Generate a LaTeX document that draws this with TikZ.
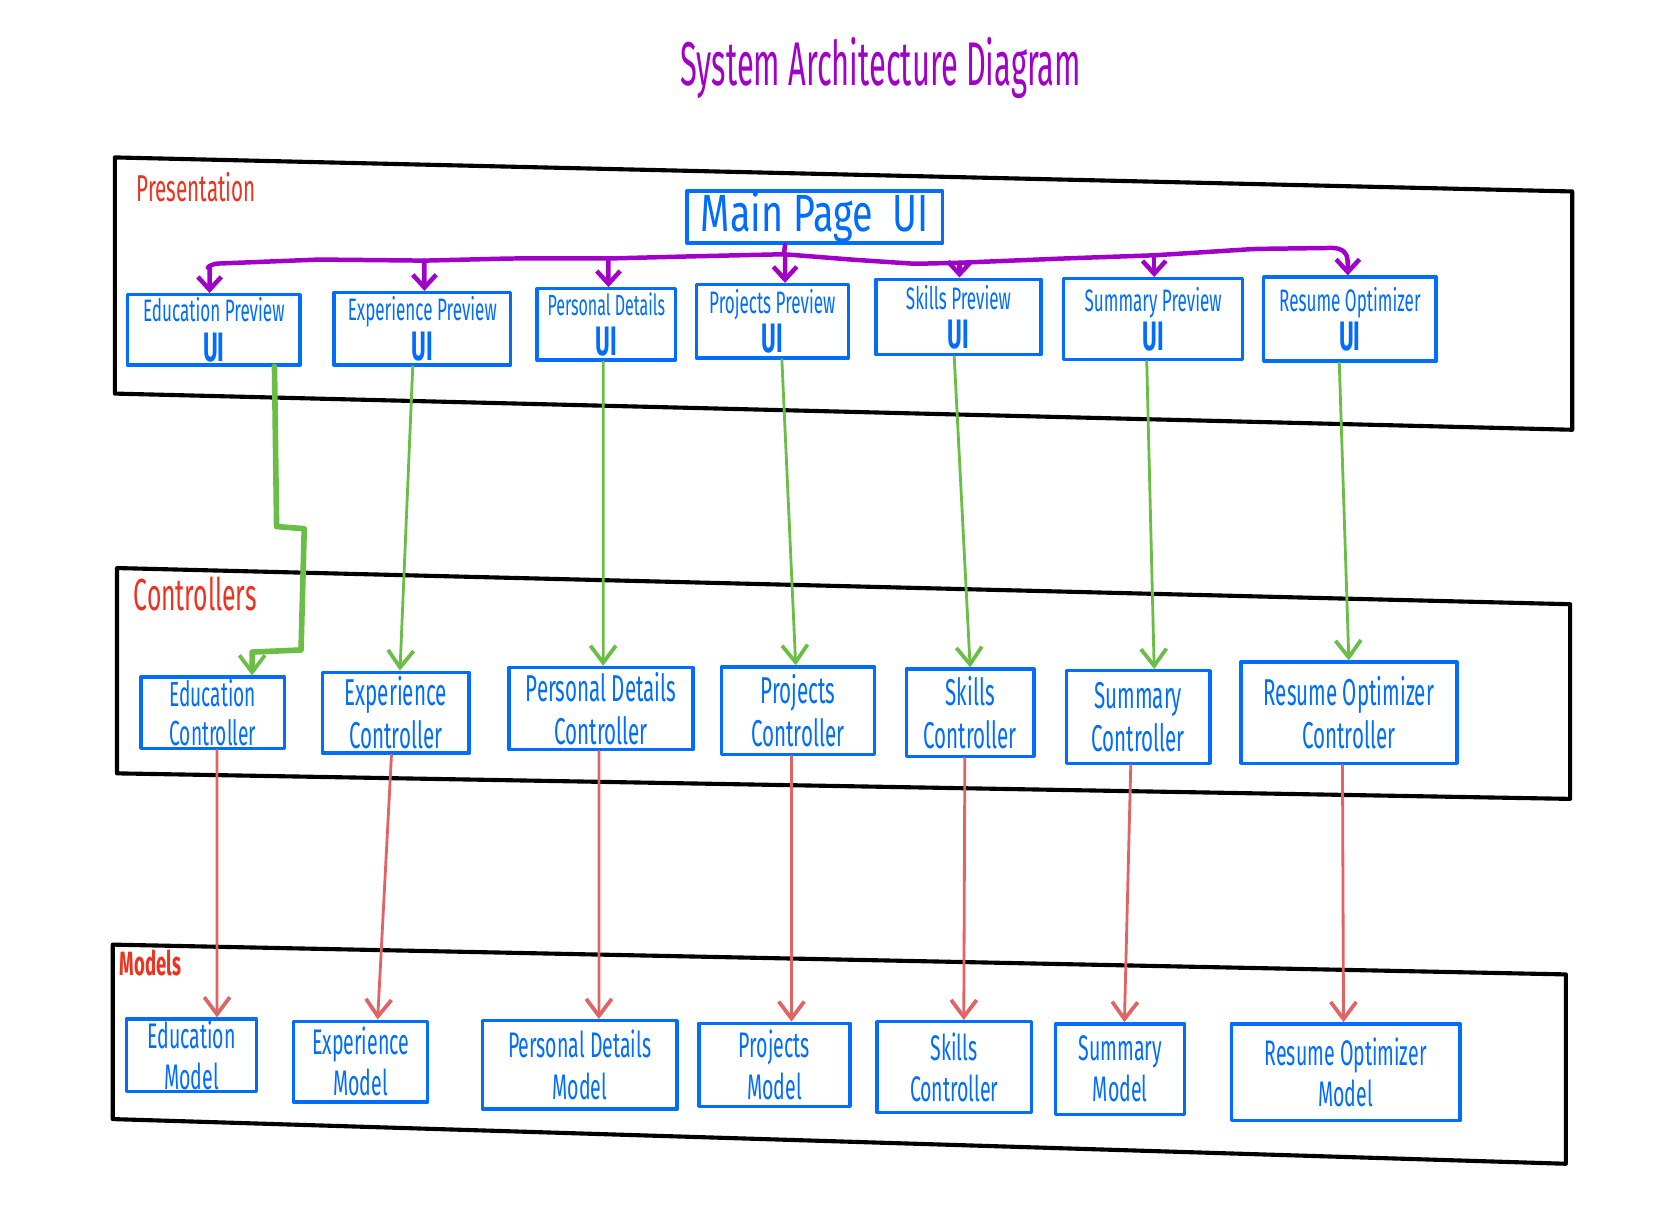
\documentclass[tikz,border=0pt]{standalone}
\usepackage{fontspec}
\usetikzlibrary{arrows.meta}
\newfontfamily\hand[FakeStretch=0.55]{Fira Sans}
\newfontfamily\handw[FakeStretch=0.72]{Fira Sans}
\newfontfamily\handt[FakeStretch=0.5]{Fira Sans}
\definecolor{uiblue}{RGB}{0,110,250}
\definecolor{ggreen}{RGB}{106,190,70}
\definecolor{rred}{RGB}{225,100,100}
\definecolor{ppurple}{RGB}{160,0,200}
\definecolor{lred}{RGB}{238,50,30}
\newcommand{\uiline}{{\fontsize{11}{12}\selectfont\bfseries UI}}
\tikzset{
  layer/.style={draw=black, line width=1.1pt, line join=round},
  anybox/.style={draw=uiblue, line width=0.9pt, text=uiblue, align=center, inner sep=0pt, line join=round},
  pbox/.style={anybox, font={\hand\fontsize{8.3}{10.5}\selectfont}},
  cbox/.style={anybox, font={\hand\fontsize{10}{11.5}\selectfont}},
  mbox/.style={anybox, font={\hand\fontsize{9.5}{11}\selectfont}},
  lab/.style={text=lred, anchor=west, inner sep=0pt},
  ttl/.style={text=ppurple, font={\handt\fontsize{16.5}{18}\selectfont}},
  garrow/.style={draw=ggreen, line width=0.75pt, line cap=round, -{Straight Barb[length=1.6mm,width=2.4mm,line width=1pt]}},
  rarrow/.style={draw=rred, line width=0.75pt, line cap=round, -{Straight Barb[length=1.6mm,width=2.4mm,line width=1pt]}},
  pbus/.style={draw=ppurple, line width=1.2pt, line cap=round, line join=round},
  parrow/.style={pbus, -{Straight Barb[length=1.2mm,width=2.2mm,line width=1.2pt]}}
}
\begin{document}
\begin{tikzpicture}[x=0.01cm,y=-0.01cm]
\useasboundingbox[fill=white] (0,0) rectangle (1568,1155);

% layers
\draw[layer] (108,148) -- (1478,180) -- (1478,404) -- (108,370) -- cycle;
\draw[layer] (110,534) -- (1476,568) -- (1476,751) -- (110,727) -- cycle;
\draw[layer] (106,888) -- (1472,916) -- (1472,1094) -- (106,1052) -- cycle;

% title and layer labels
\node[ttl] (title) at (828,64) {System Architecture Diagram};
\node[lab, font={\hand\fontsize{10}{12}\selectfont}] (lpres) at (128,176) {Presentation};
\node[lab, font={\hand\fontsize{12}{14}\selectfont}] (lctrl) at (125,558) {Controllers};
\node[lab, font={\hand\fontsize{9}{10}\selectfont\bfseries}] (lmod) at (112,905) {Models};

% presentation
\node[anybox, font={\handw\fontsize{14}{16}\selectfont}, minimum width=2.40cm, minimum height=0.49cm] (main) at (766,204) {Main Page\ \ UI};
\node[pbox, minimum width=1.62cm, minimum height=0.66cm] (eduP) at (201,310) {Education Preview\\\uiline};
\node[pbox, minimum width=1.66cm, minimum height=0.68cm] (expP) at (397,309) {Experience Preview\\\uiline};
\node[pbox, font={\hand\fontsize{7.8}{10.5}\selectfont}, minimum width=1.30cm, minimum height=0.67cm] (perP) at (570,305) {Personal Details\\\uiline};
\node[pbox, minimum width=1.43cm, minimum height=0.69cm] (proP) at (726,302) {Projects Preview\\\uiline};
\node[pbox, minimum width=1.55cm, minimum height=0.71cm] (skiP) at (901,298) {Skills Preview\\\uiline};
\node[pbox, minimum width=1.68cm, minimum height=0.76cm] (sumP) at (1084,300) {Summary Preview\\\uiline};
\node[pbox, minimum width=1.62cm, minimum height=0.79cm] (resP) at (1269,300) {Resume Optimizer\\\uiline};

% controllers
\node[cbox, font={\hand\fontsize{9.3}{10.3}\selectfont}, minimum width=1.35cm, minimum height=0.67cm] (eduC) at (200,670) {Education\\Controller};
\node[cbox, minimum width=1.38cm, minimum height=0.76cm] (expC) at (372,670) {Experience\\Controller};
\node[cbox, minimum width=1.73cm, minimum height=0.77cm] (perC) at (565,666) {Personal Details\\Controller};
\node[cbox, minimum width=1.44cm, minimum height=0.82cm] (proC) at (750,668) {Projects\\Controller};
\node[cbox, minimum width=1.20cm, minimum height=0.82cm] (skiC) at (912,670) {Skills\\Controller};
\node[cbox, minimum width=1.35cm, minimum height=0.87cm] (sumC) at (1070,674) {Summary\\Controller};
\node[cbox, minimum width=2.03cm, minimum height=0.95cm] (resC) at (1268,670) {Resume Optimizer\\Controller};

% models
\node[mbox, minimum width=1.22cm, minimum height=0.68cm] (eduM) at (180,992) {Education\\Model};
\node[mbox, minimum width=1.26cm, minimum height=0.76cm] (expM) at (339,998) {Experience\\Model};
\node[mbox, minimum width=1.83cm, minimum height=0.83cm] (perM) at (545,1001) {Personal Details\\Model};
\node[mbox, minimum width=1.42cm, minimum height=0.78cm] (proM) at (728,1001) {Projects\\Model};
\node[mbox, minimum width=1.45cm, minimum height=0.85cm] (skiM) at (897,1003) {Skills\\Controller};
\node[mbox, minimum width=1.21cm, minimum height=0.85cm] (sumM) at (1053,1005) {Summary\\Model};
\node[mbox, minimum width=2.15cm, minimum height=0.91cm] (resM) at (1265,1008) {Resume Optimizer\\Model};

% purple bus
\coordinate (j0) at (737,239);
\coordinate (b1) at (197,250);
\coordinate (b2) at (399,245);
\coordinate (b3) at (572,243);
\coordinate (b4) at (738,239);
\coordinate (b5) at (902,247);
\coordinate (b6) at (1085,240);
\coordinate (b7) at (1267,247);
\draw[pbus] ([xshift=-0.28cm]main.south) -- (j0);
\draw[pbus, rounded corners=0.05cm] (b1) -- (199,248) -- (300,244) -- (b2) -- (480,243) -- (b3) -- (650,241) -- (j0) -- (800,244) -- (860,248) -- (b5) -- (1000,243) -- (b6) -- (1180,234) -- (1258,233) -- (1266,238) -- (b7);
\draw[parrow] (b1) -- ([xshift=-0.04cm]eduP.north);
\draw[parrow] (b2) -- ([xshift=0.02cm]expP.north);
\draw[parrow] (b3) -- ([xshift=0.02cm]perP.north);
\draw[parrow] (b4) -- ([xshift=0.12cm]proP.north);
\draw[parrow] (b5) -- ([xshift=0.01cm]skiP.north);
\draw[parrow] (b6) -- ([xshift=0.01cm]sumP.north);
\draw[parrow] (b7) -- ([xshift=-0.02cm]resP.north);

% green connectors
\draw[garrow, line width=1.5pt, line join=round] ([xshift=0.57cm]eduP.south) -- (260,495) -- (286,497) -- (283,611) -- (237,613) -- ([xshift=0.37cm]eduC.north);
\draw[garrow] ([xshift=-0.09cm]expP.south) -- ([xshift=0.04cm]expC.north);
\draw[garrow] ([xshift=-0.03cm]perP.south) -- ([xshift=0.02cm]perC.north);
\draw[garrow] ([xshift=0.09cm]proP.south) -- ([xshift=-0.02cm]proC.north);
\draw[garrow] ([xshift=-0.04cm]skiP.south) -- (skiC.north);
\draw[garrow] ([xshift=-0.06cm]sumP.south) -- ([xshift=0.15cm]sumC.north);
\draw[garrow] ([xshift=-0.10cm]resP.south) -- (resC.north);

% red connectors
\draw[rarrow] ([xshift=0.04cm]eduC.south) -- ([xshift=0.24cm]eduM.north);
\draw[rarrow] ([xshift=-0.04cm]expC.south) -- ([xshift=0.16cm]expM.north);
\draw[rarrow] ([xshift=-0.02cm]perC.south) -- ([xshift=0.18cm]perM.north);
\draw[rarrow] ([xshift=-0.06cm]proC.south) -- ([xshift=0.16cm]proM.north);
\draw[rarrow] ([xshift=-0.05cm]skiC.south) -- ([xshift=0.09cm]skiM.north);
\draw[rarrow] ([xshift=-0.07cm]sumC.south) -- ([xshift=0.04cm]sumM.north);
\draw[rarrow] ([xshift=-0.06cm]resC.south) -- ([xshift=-0.02cm]resM.north);
\end{tikzpicture}
\end{document}
